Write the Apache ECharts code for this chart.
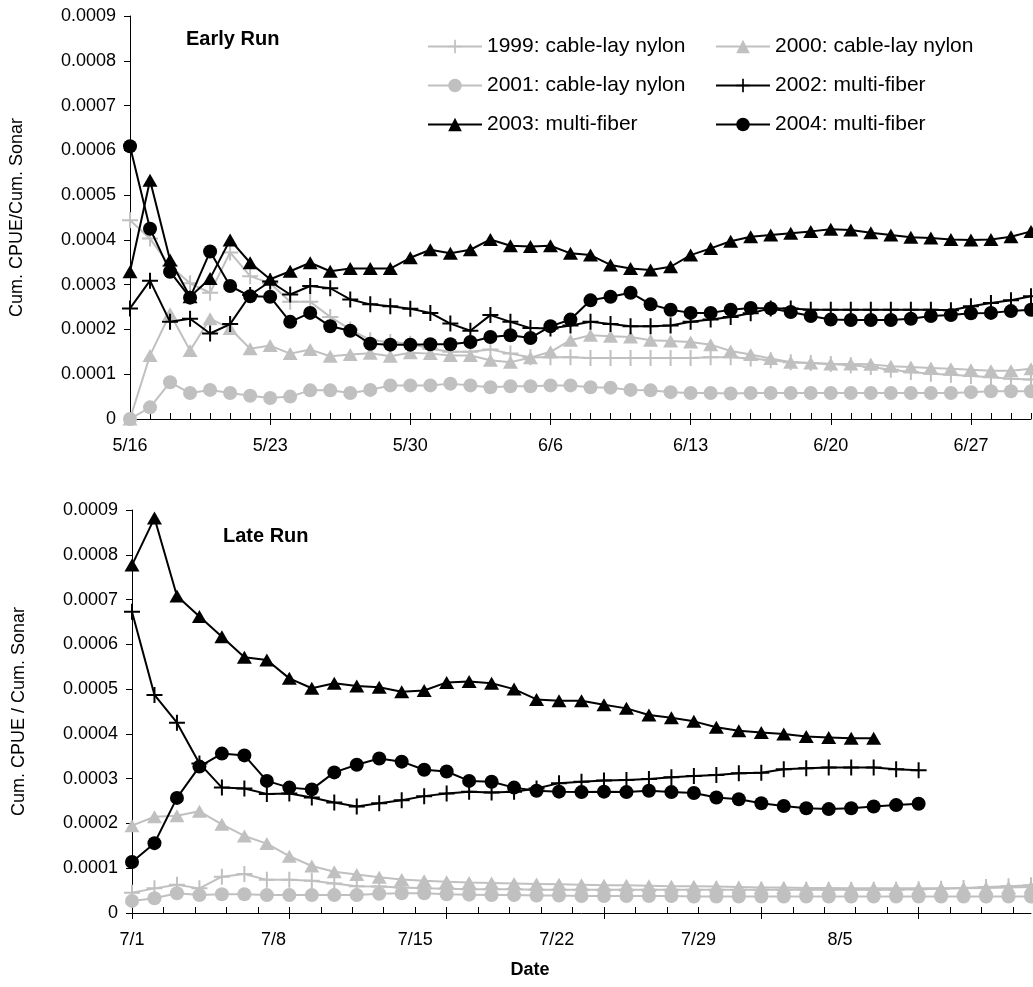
<!DOCTYPE html>
<html>
<head>
<meta charset="utf-8">
<script src="https://cdn.jsdelivr.net/npm/echarts@6/dist/echarts.min.js"></script>
<style>
  html, body { margin: 0; padding: 0; background: #fff; }
  #chart { width: 1033px; height: 987px; }
</style>
</head>
<body>
<div id="chart"></div>
<script>
// Tick labels
const earlyDateLabels = ['5/16', '5/23', '5/30', '6/6', '6/13', '6/20', '6/27'];
const lateDateLabels = ['7/1', '7/8', '7/15', '7/22', '7/29', '8/5'];
const yTickLabels = ['0', '0.0001', '0.0002', '0.0003', '0.0004', '0.0005', '0.0006', '0.0007', '0.0008', '0.0009'];

const seriesNames = [
  '1999: cable-lay nylon', '2000: cable-lay nylon', '2001: cable-lay nylon',
  '2002: multi-fiber', '2003: multi-fiber', '2004: multi-fiber'
];

// Early run: one value per day starting 5/16
const early1999 = [4.44e-4,4.03e-4,3.42e-4,3.03e-4,2.82e-4,3.72e-4,3.19e-4,3.03e-4,2.62e-4,2.62e-4,2.28e-4,2.00e-4,1.76e-4,1.72e-4,1.68e-4,1.57e-4,1.50e-4,1.50e-4,1.55e-4,1.46e-4,1.38e-4,1.38e-4,1.38e-4,1.36e-4,1.36e-4,1.36e-4,1.36e-4,1.36e-4,1.36e-4,1.38e-4,1.38e-4,1.35e-4,1.31e-4,1.27e-4,1.25e-4,1.23e-4,1.20e-4,1.16e-4,1.10e-4,1.05e-4,1.01e-4,0.99e-4,0.96e-4,0.93e-4,0.90e-4,0.88e-4];
const early2000 = [0,1.42e-4,2.35e-4,1.53e-4,2.24e-4,2.02e-4,1.57e-4,1.64e-4,1.46e-4,1.55e-4,1.40e-4,1.44e-4,1.47e-4,1.40e-4,1.48e-4,1.46e-4,1.42e-4,1.42e-4,1.31e-4,1.27e-4,1.37e-4,1.50e-4,1.76e-4,1.87e-4,1.85e-4,1.83e-4,1.76e-4,1.74e-4,1.72e-4,1.66e-4,1.52e-4,1.44e-4,1.35e-4,1.27e-4,1.25e-4,1.23e-4,1.23e-4,1.22e-4,1.18e-4,1.16e-4,1.14e-4,1.12e-4,1.10e-4,1.08e-4,1.08e-4,1.12e-4];
const early2001 = [0,0.26e-4,0.82e-4,0.58e-4,0.65e-4,0.58e-4,0.52e-4,0.47e-4,0.50e-4,0.64e-4,0.64e-4,0.58e-4,0.65e-4,0.75e-4,0.75e-4,0.75e-4,0.79e-4,0.75e-4,0.71e-4,0.73e-4,0.73e-4,0.75e-4,0.75e-4,0.71e-4,0.70e-4,0.65e-4,0.64e-4,0.60e-4,0.58e-4,0.58e-4,0.57e-4,0.58e-4,0.58e-4,0.58e-4,0.58e-4,0.58e-4,0.58e-4,0.58e-4,0.58e-4,0.58e-4,0.58e-4,0.58e-4,0.60e-4,0.62e-4,0.62e-4,0.62e-4];
const early2002 = [2.47e-4,3.09e-4,2.17e-4,2.24e-4,1.91e-4,2.12e-4,2.77e-4,3.07e-4,2.78e-4,2.97e-4,2.92e-4,2.67e-4,2.56e-4,2.52e-4,2.46e-4,2.37e-4,2.13e-4,1.97e-4,2.32e-4,2.17e-4,2.03e-4,2.02e-4,2.09e-4,2.17e-4,2.12e-4,2.07e-4,2.07e-4,2.09e-4,2.17e-4,2.22e-4,2.28e-4,2.36e-4,2.47e-4,2.47e-4,2.44e-4,2.44e-4,2.44e-4,2.44e-4,2.44e-4,2.44e-4,2.44e-4,2.43e-4,2.52e-4,2.59e-4,2.65e-4,2.74e-4];
const early2003 = [3.29e-4,5.33e-4,3.55e-4,2.73e-4,3.14e-4,4.00e-4,3.49e-4,3.12e-4,3.30e-4,3.49e-4,3.30e-4,3.36e-4,3.36e-4,3.36e-4,3.60e-4,3.78e-4,3.70e-4,3.78e-4,4.01e-4,3.87e-4,3.85e-4,3.87e-4,3.70e-4,3.66e-4,3.44e-4,3.36e-4,3.33e-4,3.40e-4,3.66e-4,3.81e-4,3.97e-4,4.07e-4,4.11e-4,4.15e-4,4.19e-4,4.24e-4,4.22e-4,4.16e-4,4.11e-4,4.06e-4,4.04e-4,4.01e-4,4.00e-4,4.01e-4,4.07e-4,4.19e-4];
const early2004 = [6.09e-4,4.25e-4,3.29e-4,2.71e-4,3.74e-4,2.97e-4,2.74e-4,2.73e-4,2.17e-4,2.37e-4,2.07e-4,1.97e-4,1.68e-4,1.66e-4,1.66e-4,1.67e-4,1.67e-4,1.72e-4,1.83e-4,1.87e-4,1.81e-4,2.07e-4,2.22e-4,2.65e-4,2.73e-4,2.82e-4,2.56e-4,2.44e-4,2.37e-4,2.37e-4,2.44e-4,2.48e-4,2.47e-4,2.39e-4,2.30e-4,2.22e-4,2.21e-4,2.21e-4,2.21e-4,2.24e-4,2.30e-4,2.32e-4,2.36e-4,2.37e-4,2.41e-4,2.44e-4];

// Late run: one value per sample starting 7/1
const late1999 = [0.45e-4,0.55e-4,0.63e-4,0.55e-4,0.81e-4,0.87e-4,0.74e-4,0.74e-4,0.72e-4,0.66e-4,0.60e-4,0.59e-4,0.57e-4,0.55e-4,0.54e-4,0.53e-4,0.53e-4,0.53e-4,0.52e-4,0.52e-4,0.52e-4,0.52e-4,0.52e-4,0.52e-4,0.52e-4,0.52e-4,0.52e-4,0.52e-4,0.52e-4,0.52e-4,0.52e-4,0.52e-4,0.52e-4,0.52e-4,0.52e-4,0.53e-4,0.54e-4,0.56e-4,0.58e-4,0.60e-4,0.62e-4];
const late2000 = [1.95e-4,2.15e-4,2.17e-4,2.27e-4,1.98e-4,1.72e-4,1.55e-4,1.27e-4,1.05e-4,0.92e-4,0.86e-4,0.80e-4,0.75e-4,0.72e-4,0.70e-4,0.68e-4,0.67e-4,0.66e-4,0.65e-4,0.64e-4,0.63e-4,0.62e-4,0.62e-4,0.61e-4,0.60e-4,0.60e-4,0.59e-4,0.58e-4,0.57e-4,0.57e-4,0.56e-4,0.56e-4,0.55e-4,0.55e-4,0.55e-4,0.55e-4,0.55e-4,0.55e-4,0.56e-4,0.57e-4,0.58e-4];
const late2001 = [0.27e-4,0.33e-4,0.44e-4,0.40e-4,0.42e-4,0.42e-4,0.40e-4,0.40e-4,0.40e-4,0.40e-4,0.40e-4,0.43e-4,0.44e-4,0.44e-4,0.42e-4,0.41e-4,0.40e-4,0.40e-4,0.39e-4,0.39e-4,0.38e-4,0.38e-4,0.38e-4,0.38e-4,0.38e-4,0.37e-4,0.37e-4,0.37e-4,0.37e-4,0.37e-4,0.37e-4,0.37e-4,0.37e-4,0.37e-4,0.37e-4,0.37e-4,0.37e-4,0.37e-4,0.37e-4,0.37e-4,0.37e-4];
const late2002 = [6.73e-4,4.87e-4,4.25e-4,3.34e-4,2.80e-4,2.78e-4,2.66e-4,2.67e-4,2.58e-4,2.47e-4,2.38e-4,2.45e-4,2.52e-4,2.61e-4,2.67e-4,2.71e-4,2.69e-4,2.71e-4,2.78e-4,2.90e-4,2.93e-4,2.96e-4,2.97e-4,2.99e-4,3.03e-4,3.06e-4,3.08e-4,3.12e-4,3.13e-4,3.21e-4,3.23e-4,3.25e-4,3.25e-4,3.25e-4,3.21e-4,3.19e-4];
const late2003 = [7.77e-4,8.82e-4,7.08e-4,6.62e-4,6.17e-4,5.71e-4,5.65e-4,5.24e-4,5.02e-4,5.13e-4,5.07e-4,5.04e-4,4.94e-4,4.97e-4,5.15e-4,5.17e-4,5.13e-4,5.00e-4,4.77e-4,4.74e-4,4.74e-4,4.65e-4,4.57e-4,4.42e-4,4.36e-4,4.28e-4,4.15e-4,4.07e-4,4.03e-4,4.00e-4,3.94e-4,3.92e-4,3.90e-4,3.90e-4];
const late2004 = [1.14e-4,1.56e-4,2.57e-4,3.27e-4,3.56e-4,3.52e-4,2.95e-4,2.80e-4,2.76e-4,3.14e-4,3.31e-4,3.45e-4,3.38e-4,3.20e-4,3.16e-4,2.95e-4,2.93e-4,2.80e-4,2.73e-4,2.71e-4,2.70e-4,2.71e-4,2.70e-4,2.73e-4,2.70e-4,2.68e-4,2.58e-4,2.54e-4,2.45e-4,2.39e-4,2.34e-4,2.32e-4,2.34e-4,2.38e-4,2.41e-4,2.44e-4];

const FONT = '"Liberation Sans", Arial, sans-serif';
const GRAY = '#c0c0c0';
const BLACK = '#000000';
const PLUS = 'path://M0,7H16V9H0ZM7,0H9V16H7Z';

const yearStyles = [
  { color: GRAY,  symbol: PLUS,       size: 16 },
  { color: GRAY,  symbol: 'triangle', size: [15, 13] },
  { color: GRAY,  symbol: 'circle',   size: 14 },
  { color: BLACK, symbol: PLUS,       size: 16 },
  { color: BLACK, symbol: 'triangle', size: [15, 13] },
  { color: BLACK, symbol: 'circle',   size: 14 }
];

const earlySets = [early1999, early2000, early2001, early2002, early2003, early2004];
const lateSets = [late1999, late2000, late2001, late2002, late2003, late2004];

const range = (n, step) => Array.from({ length: n }, (_, k) => +(k * step).toFixed(4));

function makeSeries(values, k, xAxisIndex, yAxisIndex) {
  const st = yearStyles[k];
  return {
    name: seriesNames[k],
    type: 'line',
    xAxisIndex, yAxisIndex,
    data: values.map((v, i) => [i, v]),
    symbol: st.symbol,
    symbolSize: st.size,
    showSymbol: true,
    showAllSymbol: true,
    lineStyle: { color: st.color, width: 2 },
    itemStyle: { color: st.color, borderWidth: 0 },
    emphasis: { disabled: true },
    z: 2 + k
  };
}

const yAxisBase = (gridIndex, name) => ({
  type: 'value', gridIndex, min: 0, max: 9e-4, interval: 1e-4,
  name, nameLocation: 'middle', nameGap: 104,
  nameTextStyle: { fontSize: 18, color: BLACK, fontFamily: FONT },
  axisLine: { show: true, lineStyle: { color: BLACK, width: 1 } },
  axisTick: { show: true, length: 6, lineStyle: { color: BLACK } },
  axisLabel: {
    fontSize: 18, color: BLACK, fontFamily: FONT, margin: 14,
    formatter: v => yTickLabels[Math.round(v / 1e-4)]
  },
  splitLine: { show: false }
});

const hiddenTickAxis = (gridIndex, max, values, inside) => ({
  type: 'value', gridIndex, position: 'bottom', min: 0, max,
  axisLine: { show: false },
  axisTick: { show: true, inside, length: 6, customValues: values, lineStyle: { color: BLACK } },
  axisLabel: { show: false },
  splitLine: { show: false }
});

const option = {
  backgroundColor: '#ffffff',
  animation: false,
  textStyle: { fontFamily: FONT },
  grid: [
    { left: 130, top: 16, width: 901, height: 403 },
    { left: 132, top: 510, width: 899, height: 403 }
  ],
  title: [
    { text: 'Early Run', left: 186, top: 29, padding: 0,
      textStyle: { fontSize: 20, fontWeight: 'bold', color: BLACK, fontFamily: FONT } },
    { text: 'Late Run', left: 223, top: 526, padding: 0,
      textStyle: { fontSize: 20, fontWeight: 'bold', color: BLACK, fontFamily: FONT } }
  ],
  legend: [
    { data: [seriesNames[0], seriesNames[2], seriesNames[4]] },
    { data: [seriesNames[1], seriesNames[3], seriesNames[5]] }
  ].map((l, j) => Object.assign(l, {
    orient: 'vertical', left: j === 0 ? 427 : 715, top: 36, padding: 0,
    itemWidth: 54, itemHeight: 17, itemGap: 18, selectedMode: false,
    textStyle: { fontSize: 21, color: BLACK, fontFamily: FONT, lineHeight: 20 }
  })),
  xAxis: [
    // Early run: daily minor ticks, weekly labels
    {
      type: 'value', gridIndex: 0, position: 'bottom', min: 0, max: 45,
      axisLine: { show: true, lineStyle: { color: BLACK, width: 1 } },
      axisTick: { show: true, inside: true, length: 6, customValues: range(46, 1), lineStyle: { color: BLACK } },
      axisLabel: {
        fontSize: 18, color: BLACK, fontFamily: FONT, margin: 18,
        customValues: range(earlyDateLabels.length, 7),
        formatter: v => earlyDateLabels[Math.round(v / 7)]
      },
      splitLine: { show: false }
    },
    hiddenTickAxis(0, 45, range(earlyDateLabels.length, 7), false),
    // Late run: minor ticks and weekly major ticks
    {
      type: 'value', gridIndex: 1, position: 'bottom', min: 0, max: 40,
      axisLine: { show: true, lineStyle: { color: BLACK, width: 1 } },
      axisTick: { show: true, inside: true, length: 6, customValues: range(29, 1.4), lineStyle: { color: BLACK } },
      axisLabel: { show: false },
      splitLine: { show: false }
    },
    hiddenTickAxis(1, 40, range(6, 7), false),
    // Late run date labels
    {
      type: 'value', gridIndex: 1, position: 'bottom', min: 0, max: 44.44,
      axisLine: { show: false },
      axisTick: { show: false },
      axisLabel: {
        fontSize: 18, color: BLACK, fontFamily: FONT, margin: 18,
        customValues: range(lateDateLabels.length, 7),
        formatter: v => lateDateLabels[Math.round(v / 7)]
      },
      splitLine: { show: false }
    }
  ],
  yAxis: [
    yAxisBase(0, 'Cum. CPUE/Cum. Sonar'),
    yAxisBase(1, 'Cum. CPUE / Cum. Sonar')
  ],
  graphic: [
    { type: 'text', x: 530, y: 970,
      style: { text: 'Date', font: 'bold 18px ' + FONT, fill: BLACK, align: 'center', verticalAlign: 'middle' } }
  ],
  series: [
    ...earlySets.map((vals, k) => makeSeries(vals, k, 0, 0)),
    ...lateSets.map((vals, k) => makeSeries(vals, k, 2, 1))
  ]
};

const chart = echarts.init(document.getElementById('chart'), null, { renderer: 'canvas' });
chart.setOption(option);
</script>
</body>
</html>
